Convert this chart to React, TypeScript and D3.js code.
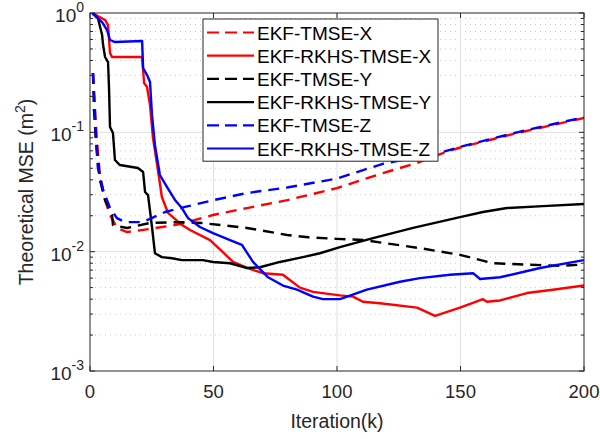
import * as d3 from 'd3';
import React from 'react';

// series: [iteration k, theoretical MSE]
const ekfTmseX: [number, number][] = [
  [1.2, 0.314], [2.0, 0.154], [2.8, 0.086], [4.0, 0.044], [6.1, 0.027], [8.1, 0.0203],
  [10.9, 0.0158], [15, 0.0146], [24.3, 0.0155], [36.4, 0.017], [49.8, 0.0203],
  [63.6, 0.0232], [79.8, 0.027], [100, 0.0341], [118.6, 0.0456],
  [132.4, 0.0553], [142.9, 0.067], [150.2, 0.075], [172.9, 0.0986], [200, 0.132],
];
const ekfRkhsX: [number, number][] = [
  [0.8, 1.0], [6.1, 0.874], [7.3, 0.793], [8.1, 0.462], [8.9, 0.428], [21.1, 0.428],
  [21.9, 0.259], [23.1, 0.24], [24.3, 0.169], [25.5, 0.0896], [27.5, 0.0483],
  [29.1, 0.0287], [31.6, 0.0211], [36.8, 0.017], [40.5, 0.0152], [48.6, 0.0125],
  [53.8, 0.0099], [57.9, 0.0082], [63.6, 0.0073], [70, 0.0066], [78.1, 0.0064],
  [85, 0.005], [90.3, 0.0046], [101.2, 0.0043], [106.5, 0.0042], [110.5, 0.0038],
  [117.4, 0.0037], [132.4, 0.0034], [139.7, 0.0029], [149.8, 0.0034], [159.1, 0.004],
  [160.7, 0.0038], [166, 0.0039], [176.9, 0.0045], [187.4, 0.0048], [200, 0.0052],
];
const ekfTmseY: [number, number][] = [
  [1.2, 0.314], [1.6, 0.154], [2.4, 0.086], [4.0, 0.04], [6.1, 0.027], [8.9, 0.0203],
  [9.3, 0.0167], [15, 0.0158], [24.3, 0.0174], [36.4, 0.0177], [45, 0.0174],
  [63.6, 0.0158], [79.8, 0.0138], [88.4, 0.0132], [100, 0.0128], [111, 0.0125],
  [133.6, 0.0107], [149.8, 0.0094], [163.2, 0.008], [190.3, 0.0076], [200, 0.0078],
];
const ekfRkhsY: [number, number][] = [
  [1.2, 1.0], [3.2, 0.908], [4.9, 0.654], [5.3, 0.539], [6.1, 0.428], [7.3, 0.388],
  [7.7, 0.235], [8.1, 0.111], [9.3, 0.0986], [10.1, 0.0586], [12.1, 0.0532],
  [19.4, 0.0502], [21.5, 0.0465], [22.3, 0.0316], [23.5, 0.0298], [25.1, 0.0161],
  [26.3, 0.0097], [29.1, 0.009], [33.2, 0.0088], [37.2, 0.0085], [45.7, 0.0085],
  [49.8, 0.0082], [56.7, 0.008], [63.6, 0.0073], [68.8, 0.0074], [76.9, 0.0082],
  [86.2, 0.009], [93.1, 0.0097], [101.2, 0.0109], [114.6, 0.013], [130.8, 0.0158],
  [149.8, 0.0195], [159.1, 0.0215], [168.8, 0.0232], [183.4, 0.0241], [200, 0.0251],
];
const ekfTmseZ: [number, number][] = [
  [1.2, 0.314], [2.0, 0.154], [2.4, 0.086], [3.2, 0.05], [5.3, 0.033], [8.1, 0.0232],
  [10.9, 0.0191], [14.2, 0.0177], [21, 0.0177], [25, 0.0191], [30.4, 0.0215],
  [38.5, 0.0237], [49.8, 0.027], [63.6, 0.031], [79.8, 0.0345], [100, 0.041],
  [118.6, 0.0545], [142.9, 0.0685], [150.2, 0.076], [172.9, 0.1], [200, 0.134],
];
const ekfRkhsZ: [number, number][] = [
  [0.8, 1.0], [4.9, 0.84], [6.9, 0.72], [8.1, 0.594], [10.1, 0.571], [21.1, 0.582],
  [21.5, 0.346], [23.1, 0.302], [24.3, 0.264], [25.1, 0.14], [26.3, 0.078],
  [28.3, 0.0439], [31.2, 0.0348], [34.4, 0.0271], [37.2, 0.0232], [39.7, 0.0191],
  [44.5, 0.0161], [49.8, 0.0143], [56.7, 0.0125], [61.5, 0.0114], [66, 0.0082],
  [72.1, 0.0061], [78.1, 0.0052], [83.8, 0.0048], [90.3, 0.0042], [94.3, 0.004],
  [101.2, 0.004], [112.1, 0.0048], [125.5, 0.0056], [133.6, 0.006], [145.7, 0.0064],
  [155.1, 0.0066], [157.9, 0.0059], [166, 0.0061], [182.2, 0.0073], [200, 0.0085],
];

const xTicks = [0, 50, 100, 150, 200];
const yTickExps = [0, -1, -2, -3];

const series = [
  { name: 'EKF-TMSE-X', data: ekfTmseX, color: '#ff0000', dashed: true },
  { name: 'EKF-RKHS-TMSE-X', data: ekfRkhsX, color: '#ff0000', dashed: false },
  { name: 'EKF-TMSE-Y', data: ekfTmseY, color: '#000000', dashed: true },
  { name: 'EKF-RKHS-TMSE-Y', data: ekfRkhsY, color: '#000000', dashed: false },
  { name: 'EKF-TMSE-Z', data: ekfTmseZ, color: '#0000ff', dashed: true },
  { name: 'EKF-RKHS-TMSE-Z', data: ekfRkhsZ, color: '#0000ff', dashed: false },
];

const W = 600;
const H = 439;
const margin = { top: 13, right: 16, bottom: 68, left: 90 };
const axisColor = '#262626';
const font = '"Liberation Sans", Arial, Helvetica, sans-serif';

export default function App() {
  const x = d3.scaleLinear().domain([0, 200]).range([margin.left, W - margin.right]);
  const y = d3.scaleLog().domain([1e-3, 1]).range([H - margin.bottom, margin.top]);
  const line = d3
    .line<[number, number]>()
    .x(d => x(d[0]))
    .y(d => y(d[1]));

  const [x0, x1] = x.range();
  const [y0, y1] = y.range(); // y0 bottom, y1 top

  // minor log ticks 2..9 in each decade
  const minor: number[] = [];
  for (let e = -3; e < 0; e++) {
    for (let m = 2; m <= 9; m++) minor.push(m * Math.pow(10, e));
  }

  const legX = 203;
  const legY = 19;
  const legW = 235;
  const rowH = 23.2;

  return (
    <svg width={W} height={H} style={{ position: 'absolute', left: 0, top: 0 }} fontFamily={font}>
      <defs>
        <clipPath id="plot">
          <rect x={x0} y={y1} width={x1 - x0} height={y0 - y1} />
        </clipPath>
      </defs>
      <rect x={0} y={0} width={W} height={H} fill="#fff" />

      {/* grid */}
      {minor.map(v => (
        <line key={'mg' + v} x1={x0} x2={x1} y1={y(v)} y2={y(v)}
          stroke="#c8c8c8" strokeWidth={1} strokeDasharray="1,4" />
      ))}
      {yTickExps.slice(1, 3).map(e => (
        <line key={'yg' + e} x1={x0} x2={x1} y1={y(Math.pow(10, e))} y2={y(Math.pow(10, e))}
          stroke="#dfdfdf" strokeWidth={1} />
      ))}
      {xTicks.slice(1, 4).map(t => (
        <line key={'xg' + t} x1={x(t)} x2={x(t)} y1={y1} y2={y0} stroke="#dfdfdf" strokeWidth={1} />
      ))}

      {/* series */}
      <g clipPath="url(#plot)">
        {series.map(s => (
          <path key={s.name} d={line(s.data) || ''} fill="none" stroke={s.color}
            strokeWidth={2.4} strokeDasharray={s.dashed ? '11,7' : undefined}
            strokeLinejoin="round" />
        ))}
      </g>

      {/* box and ticks */}
      <rect x={x0} y={y1} width={x1 - x0} height={y0 - y1} fill="none" stroke={axisColor} strokeWidth={1} />
      {xTicks.map(t => (
        <g key={'xt' + t}>
          <line x1={x(t)} x2={x(t)} y1={y0} y2={y0 - 5} stroke={axisColor} />
          <line x1={x(t)} x2={x(t)} y1={y1} y2={y1 + 5} stroke={axisColor} />
          <text x={x(t)} y={y0 + 27} textAnchor="middle" fontSize={18.5} fill={axisColor}>{t}</text>
        </g>
      ))}
      {minor.map(v => (
        <g key={'mt' + v}>
          <line x1={x0} x2={x0 + 3} y1={y(v)} y2={y(v)} stroke={axisColor} />
          <line x1={x1} x2={x1 - 3} y1={y(v)} y2={y(v)} stroke={axisColor} />
        </g>
      ))}
      {yTickExps.map(e => (
        <g key={'yt' + e}>
          <line x1={x0} x2={x0 + 5} y1={y(Math.pow(10, e))} y2={y(Math.pow(10, e))} stroke={axisColor} />
          <line x1={x1} x2={x1 - 5} y1={y(Math.pow(10, e))} y2={y(Math.pow(10, e))} stroke={axisColor} />
          <text x={x0 - 6} y={y(Math.pow(10, e)) + 9} textAnchor="end" fontSize={19} fill={axisColor}>
            10<tspan dy={-10} fontSize={14}>{e === 0 ? '0' : '-' + Math.abs(e)}</tspan>
          </text>
        </g>
      ))}

      {/* axis labels */}
      <text x={(x0 + x1) / 2} y={428} textAnchor="middle" fontSize={19.5} fill={axisColor}>Iteration(k)</text>
      <text transform={`translate(33,${(y0 + y1) / 2}) rotate(-90)`} textAnchor="middle" fontSize={19.5} fill={axisColor}>
        Theoretical MSE (m<tspan dy={-8} fontSize={14}>2</tspan><tspan dy={8}>)</tspan>
      </text>

      {/* legend */}
      <rect x={legX} y={legY} width={legW} height={rowH * 6 + 3} fill="#fff" stroke={axisColor} strokeWidth={1} />
      {series.map((s, i) => {
        const cy = legY + 13.5 + i * rowH;
        return (
          <g key={'lg' + s.name}>
            <line x1={legX + 4} x2={legX + 51} y1={cy} y2={cy} stroke={s.color} strokeWidth={2.2}
              strokeDasharray={s.dashed ? '12,6' : undefined} />
            <text x={legX + 54} y={cy + 7} fontSize={19} fill="#000">{s.name}</text>
          </g>
        );
      })}
    </svg>
  );
}
